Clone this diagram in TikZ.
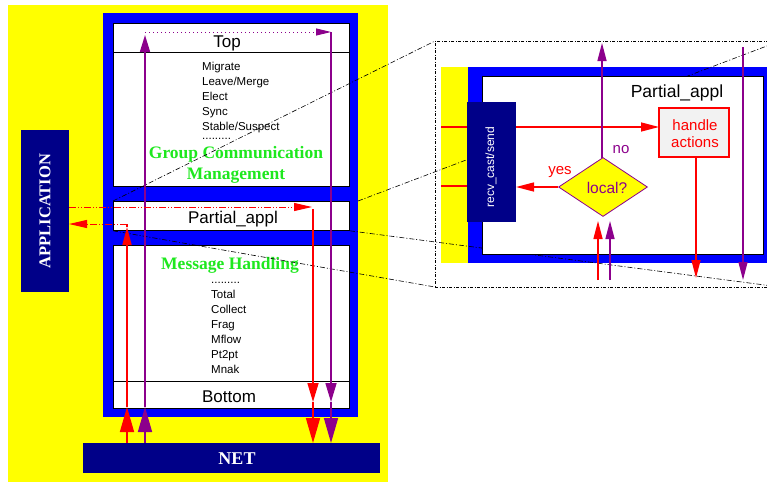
\documentclass[tikz,border=0pt]{standalone}
\usepackage{fontspec}
\setmainfont{Liberation Sans}
\newfontfamily\serifb{Liberation Serif}
\usetikzlibrary{arrows.meta,shapes.geometric}
\definecolor{ayellow}{RGB}{255,255,0}
\definecolor{ablue}{RGB}{0,0,255}
\definecolor{anavy}{RGB}{0,0,136}
\definecolor{apurple}{RGB}{140,0,140}
\definecolor{agreen}{RGB}{30,232,30}
\definecolor{ared}{RGB}{255,0,0}
\definecolor{agray}{RGB}{242,242,242}
\tikzset{
 box/.style={draw=black, line width=0.8pt, fill=white, inner sep=0pt, anchor=north west},
 plain/.style={inner sep=0pt, outer sep=0pt, anchor=north west},
 lbl/.style={inner sep=0pt, anchor=base},
 itm/.style={inner sep=0pt, anchor=base west, font=\fontsize{11.5}{13}\selectfont},
 grn/.style={inner sep=0pt, anchor=base, text=agreen, font=\serifb\bfseries\fontsize{17.5}{20}\selectfont},
 rl/.style={draw=ared, line width=1.6pt},
 pl/.style={draw=apurple, line width=1.6pt},
 tipbig/.style={-{Triangle[length=25pt,width=14pt]}},
 tipmid/.style={-{Triangle[length=19pt,width=11pt]}},
 tipsm/.style={-{Triangle[length=18pt,width=9pt]}},
 proj/.style={draw=black, line width=0.6pt, dash pattern=on 5pt off 2pt on 1pt off 2pt},
 rdd/.style={dash pattern=on 7pt off 2pt on 1pt off 2pt on 1pt off 2pt},
}
\begin{document}
\begin{tikzpicture}[x=1pt,y=-1pt]
\clip (0,0) rectangle (767,485);
\fill[white] (0,0) rectangle (767,485);
% ---------------- left stack ----------------
\node[plain, fill=ayellow, minimum width=380pt, minimum height=477pt] (yel) at (8,5) {};
\node[plain, fill=ablue, minimum width=255pt, minimum height=404pt] (frame) at (103,13) {};
\node[box, minimum width=236pt, minimum height=163pt] (gcm) at (113,23) {};
\draw[line width=0.8pt] (113,52) -- (349,52);
\node[box, minimum width=236pt, minimum height=29pt] (pal) at (113,201) {};
\node[box, minimum width=236pt, minimum height=163pt] (mh) at (113,245) {};
\draw[line width=0.8pt] (113,381) -- (349,381);
\node[plain, fill=anavy, minimum width=48pt, minimum height=162pt] (app) at (21,130) {};
\node[rotate=90, inner sep=0pt, text=white, font=\serifb\bfseries\fontsize{16.5}{18}\selectfont] (applbl) at (45,211) {APPLICATION};
\node[plain, fill=anavy, minimum width=297pt, minimum height=30pt] (net) at (83,443) {};
\node[lbl, text=white, font=\serifb\bfseries\fontsize{18}{20}\selectfont] (netlbl) at (237,464) {NET};
% texts
\node[lbl, font=\fontsize{17}{20}\selectfont] (toplbl) at (227,47) {Top};
\node[itm] (i1) at (202,70) {Migrate};
\node[itm] (i2) at (202,85) {Leave/Merge};
\node[itm] (i3) at (202,100) {Elect};
\node[itm] (i4) at (202,115) {Sync};
\node[itm] (i5) at (202,130) {Stable/Suspect};
\node[itm] (i6) at (202,139.5) {.........};
\node[grn] (g1) at (236,158) {Group Communication};
\node[grn] (g2) at (236,179) {Management};
\node[lbl, font=\fontsize{17}{20}\selectfont] (pallbl) at (233,223) {Partial\_appl};
\node[grn] (m1) at (230,269) {Message Handling};
\node[itm] (j0) at (211,283) {.........};
\node[itm] (j1) at (211,298) {Total};
\node[itm] (j2) at (211,313) {Collect};
\node[itm] (j3) at (211,328) {Frag};
\node[itm] (j4) at (211,343) {Mflow};
\node[itm] (j5) at (211,358) {Pt2pt};
\node[itm] (j6) at (211,373) {Mnak};
\node[lbl, font=\fontsize{17}{20}\selectfont] (botlbl) at (229,402) {Bottom};
% ---------------- right detail (background part) ----------------
\node[plain, draw=black, line width=0.6pt, dash pattern=on 3pt off 1.5pt on 1pt off 1.5pt, minimum width=345pt, minimum height=246pt] (zoombox) at (435,41) {};
\node[plain, fill=ayellow, minimum width=27pt, minimum height=196pt] (ystrip) at (441,67) {};
\node[plain, fill=ablue, minimum width=304pt, minimum height=196pt] (rframe) at (468,67) {};
% projection lines
\coordinate (pne) at (frame.east |- pal.north);
\draw[proj] (pal.north west) -- (zoombox.north west);
\draw[proj] (pne) -- (zoombox.north east);
\draw[proj] (pal.south west) -- (zoombox.south west);
\draw[proj] (pal.south east) -- (zoombox.south east);
% ---------------- right detail (foreground) ----------------
\node[box, minimum width=281pt, minimum height=178pt] (rpal) at (482,76) {};
\node[lbl, font=\fontsize{17.5}{20}\selectfont] (rpallbl) at (677,97) {Partial\_appl};
\node[plain, fill=anavy, minimum width=49pt, minimum height=120pt] (recv) at (467,102) {};
\node[rotate=90, inner sep=0pt, text=white, font=\fontsize{12}{14}\selectfont] (recvlbl) at (491,167) {recv\_cast/send};
\node[plain, fill=agray, draw=ared, line width=1.5pt, minimum width=70pt, minimum height=49pt] (handle) at (659,108) {};
\node[lbl, text=ared, font=\fontsize{15}{17}\selectfont] (h1) at (695,130) {handle};
\node[lbl, text=ared, font=\fontsize{15}{17}\selectfont] (h2) at (695,147) {actions};
\node[diamond, draw=apurple, fill=ayellow, line width=0.8pt, minimum width=89pt, minimum height=59pt, inner sep=0pt] (loc) at (603,187) {};
\node[lbl, text=apurple, font=\fontsize{15.5}{18}\selectfont] (loclbl) at (607,193) {local?};
\node[lbl, text=ared, font=\fontsize{15}{17}\selectfont] (yes) at (560,174) {yes};
\node[lbl, text=apurple, font=\fontsize{15}{17}\selectfont] (no) at (621,153) {no};
% red stubs
\coordinate (s1) at (441,127); \coordinate (s2) at (441,186);
\draw[ared, line width=2.2pt] (s1) -- (recv.west |- s1);
\draw[ared, line width=2.2pt] (s2) -- (recv.west |- s2);
% right arrows
\coordinate (ra1) at (recv.east |- s1);
\coordinate (ra2) at (handle.west |- s1);
\draw[rl, line width=1.4pt, tipsm] (ra1) -- (ra2);
\coordinate (hb) at (696,157); \coordinate (hbe) at (696,278);
\draw[rl, line width=1.4pt, tipsm] (hb) -- (hbe);
\coordinate (pv1) at (743,47); \coordinate (pv2) at (743,280);
\draw[pl, line width=1.4pt, tipsm] (pv1) -- (pv2);
\coordinate (lt) at (602,158); \coordinate (lte) at (602,43);
\draw[pl, line width=1.4pt, tipsm] (lt) -- (lte);
\coordinate (lw) at (loc.west); \coordinate (lwe) at (recv.east |- loc.west);
\draw[rl, line width=1.4pt, tipsm] (lw) -- (lwe);
\coordinate (ru0) at (598,280); \coordinate (ru1) at (598,221);
\draw[rl, line width=1.4pt, tipsm] (ru0) -- (ru1);
\coordinate (pu0) at (610,280); \coordinate (pu1) at (610,221);
\draw[pl, line width=1.4pt, tipsm] (pu0) -- (pu1);
% ---------------- left arrows ----------------
% red up path
\coordinate (rU0) at (127,443); \coordinate (rU1) at (127,407);
\coordinate (rU2) at (127,227); \coordinate (rU3) at (127,224);
\draw[rl, tipbig] (rU0) -- (rU1);
\draw[rl, tipsm] (rU1) -- (rU2);
\draw[rl] (rU2) -- (rU3);
\draw[ared, line width=1pt, rdd, -{Triangle[length=18pt,width=8pt]}] (rU3) -- (app.east |- rU3);
% purple up path
\coordinate (pU0) at (145,443); \coordinate (pU1) at (145,407);
\coordinate (pU2) at (145,35); \coordinate (pU3) at (145,32);
\draw[pl, tipbig] (pU0) -- (pU1);
\draw[pl, -{Triangle[length=17pt,width=10pt]}] (pU1) -- (pU2);
\coordinate (pT) at (331,32);
\draw[apurple, line width=1pt, dash pattern=on 1pt off 3pt, -{Triangle[length=15pt,width=7pt]}] (pU3) -- (pT);
\coordinate (pD1) at (331,402); \coordinate (pD2) at (331,443);
\draw[pl, tipmid] (pT) -- (pD1);
\draw[pl, tipbig] (pD1) -- (pD2);
% red down path
\coordinate (rA) at (app.east |- 0,207); \coordinate (rB) at (312,207);
\draw[ared, line width=1pt, rdd, -{Triangle[length=18pt,width=8pt]}] (rA) -- (rB);
\coordinate (rC) at (313,209); \coordinate (rD1) at (313,402); \coordinate (rD2) at (313,443);
\draw[rl, tipmid] (rC) -- (rD1);
\draw[rl, tipbig] (rD1) -- (rD2);
\end{tikzpicture}
\end{document}
